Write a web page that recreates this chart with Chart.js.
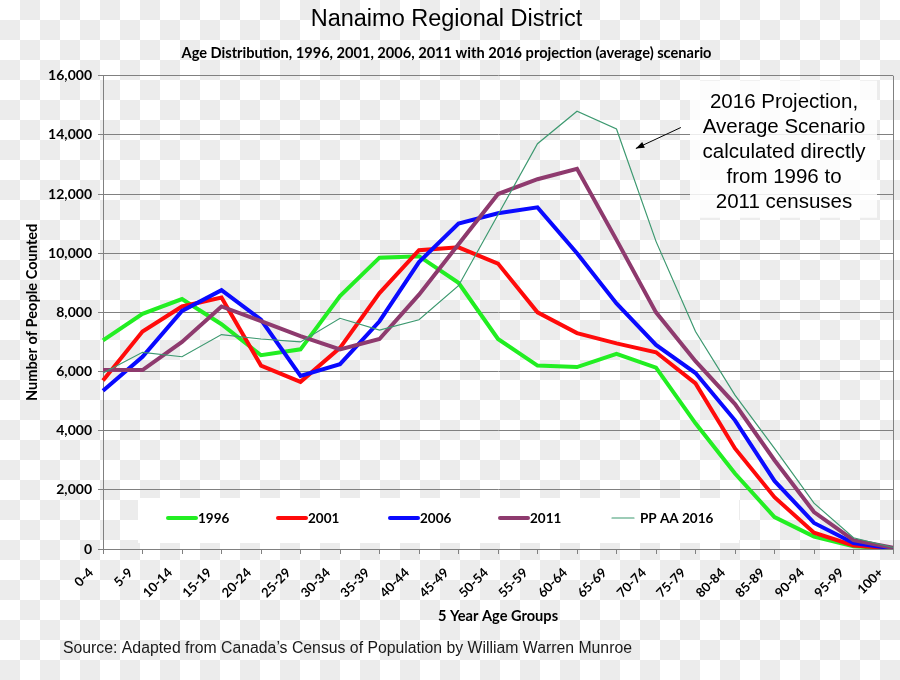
<!DOCTYPE html>
<html>
<head>
<meta charset="utf-8">
<title>Nanaimo Regional District</title>
<script src="https://cdn.jsdelivr.net/npm/chart.js@4"></script>
<style>
    body{
        margin:0;
        background-color:#ffffff;
        background-image:repeating-conic-gradient(#ececec 0 25%, #ffffff 0 50%);
        background-size:40px 40px;
    }
    canvas{
        display:block;
    }
</style>
</head>
<body>
<canvas id="ageChart" width="900" height="680"></canvas>
<script>

const ageGroups = ["0-4","5-9","10-14","15-19","20-24","25-29","30-34","35-39","40-44","45-49",
    "50-54","55-59","60-64","65-69","70-74","75-79","80-84","85-89","90-94","95-99","100+"];

const census1996 = [7050,7950,8450,7600,6550,6750,8550,9850,9900,9000,
    7100,6200,6150,6600,6130,4250,2550,1080,420,90,20];
const census2001 = [5700,7350,8200,8500,6200,5650,6800,8650,10100,10200,
    9650,8000,7300,6950,6650,5600,3400,1750,550,120,20];
const census2006 = [5350,6500,8050,8750,7750,5850,6250,7700,9700,11000,
    11350,11550,10000,8300,6900,5950,4350,2300,880,200,20];
const census2011 = [6050,6050,7000,8200,7700,7200,6750,7100,8600,10300,
    12000,12500,12850,10450,8000,6350,4900,3000,1250,300,40];
const projection2016 = [5950,6650,6500,7250,7100,7000,7800,7400,7750,8900,
    11300,13700,14800,14200,10400,7350,5200,3400,1550,380,50];

const seriesLabels = ["1996","2001","2006","2011","PP AA 2016"];
const noteLines = ["2016 Projection,","Average Scenario","calculated directly","from 1996 to","2011 censuses"];
const sourceText = "Source: Adapted from Canada\u2019s Census of Population by William Warren Munroe";

Chart.defaults.font.family = "Lato";
Chart.defaults.color = "#000000";

// legend sits inside the plot, just above the x axis
const insideLegend = {
    id:"insideLegend",
    afterDatasetsDraw(chart){
        const ctx = chart.ctx;
        const area = chart.chartArea;
        const starts = [168,278,390,500,612];
        const sampleLen = [28,28,28,28,22];
        const boxTop = area.bottom - 51;

        ctx.save();
        ctx.fillStyle = "#ffffff";
        ctx.fillRect(138, boxTop, 601, 45);

        ctx.font = "bold 13.5px Lato";
        ctx.textBaseline = "middle";
        const midY = boxTop + 20;

        chart.data.datasets.forEach((ds, i) => {
            ctx.strokeStyle = ds.borderColor;
            ctx.lineWidth = ds.borderWidth;
            ctx.lineCap = "round";
            ctx.beginPath();
            ctx.moveTo(starts[i], midY);
            ctx.lineTo(starts[i] + sampleLen[i], midY);
            ctx.stroke();
            ctx.fillStyle = "#000000";
            ctx.fillText(ds.label, starts[i] + sampleLen[i] + (i === 4 ? 6 : 2), midY + 1);
        });
        ctx.restore();
    }
};

// note box, arrow, right border and source line
const extras = {
    id:"extras",
    afterDraw(chart){
        const ctx = chart.ctx;
        const area = chart.chartArea;
        const x = chart.scales.x;
        const y = chart.scales.y;

        ctx.save();

        ctx.strokeStyle = "#808080";
        ctx.lineWidth = 1;
        ctx.beginPath();
        ctx.moveTo(area.right + 0.5, area.top);
        ctx.lineTo(area.right + 0.5, area.bottom);
        ctx.stroke();

        const boxRight = area.right - 16;
        const boxLeft = boxRight - 187;
        const boxTop = area.top + 5;
        ctx.fillStyle = "rgba(255,255,255,0.85)";
        ctx.fillRect(boxLeft, boxTop, 187, 137);

        ctx.fillStyle = "#000000";
        ctx.font = "20.5px 'Liberation Sans'";
        ctx.textAlign = "center";
        ctx.textBaseline = "middle";
        noteLines.forEach((line, i) => {
            ctx.fillText(line, boxLeft + 94, boxTop + 22 + i * 25);
        });

        // arrow pointing at the projection line
        const x1 = x.getPixelForValue(14.63), y1 = y.getPixelForValue(14250);
        const x2 = x.getPixelForValue(13.49), y2 = y.getPixelForValue(13540);
        const ang = Math.atan2(y2 - y1, x2 - x1);
        ctx.strokeStyle = "#000000";
        ctx.lineWidth = 1;
        ctx.beginPath();
        ctx.moveTo(x1, y1);
        ctx.lineTo(x2, y2);
        ctx.stroke();
        ctx.beginPath();
        ctx.moveTo(x2, y2);
        ctx.lineTo(x2 - 9 * Math.cos(ang - 0.35), y2 - 9 * Math.sin(ang - 0.35));
        ctx.lineTo(x2 - 9 * Math.cos(ang + 0.35), y2 - 9 * Math.sin(ang + 0.35));
        ctx.closePath();
        ctx.fillStyle = "#000000";
        ctx.fill();

        ctx.font = "15.8px 'Liberation Sans'";
        ctx.fillStyle = "#1a1a1a";
        ctx.textAlign = "left";
        ctx.fillText(sourceText, 63, 649);

        ctx.restore();
    }
};

function makeLine(label, data, color, width, order){
    return {
        label:label,
        data:data,
        borderColor:color,
        backgroundColor:color,
        borderWidth:width,
        pointRadius:0,
        tension:0,
        fill:false,
        order:order
    };
}

new Chart(document.getElementById("ageChart"), {
    type:"line",
    data:{
        labels:ageGroups,
        datasets:[
            makeLine(seriesLabels[0], census1996, "#22ee22", 4, 4),
            makeLine(seriesLabels[1], census2001, "#ff0a0a", 4, 3),
            makeLine(seriesLabels[2], census2006, "#0a0aff", 4, 2),
            makeLine(seriesLabels[3], census2011, "#8e3a6e", 4, 1),
            makeLine(seriesLabels[4], projection2016, "#3d9970", 1.2, 0)
        ]
    },
    options:{
        responsive:false,
        animation:false,
        layout:{
            padding:{left:0, right:7, top:0, bottom:51}
        },
        plugins:{
            legend:{display:false},
            tooltip:{enabled:false},
            title:{
                display:true,
                text:"Nanaimo Regional District",
                color:"#000000",
                font:{family:"'Liberation Sans'", size:23.5, weight:"normal"},
                padding:{top:5, bottom:0}
            },
            subtitle:{
                display:true,
                text:"Age Distribution, 1996, 2001, 2006, 2011 with 2016 projection (average) scenario",
                color:"#000000",
                font:{family:"Lato", size:14.6, weight:"bold"},
                padding:{top:11, bottom:14}
            }
        },
        scales:{
            x:{
                offset:false,
                grid:{
                    drawOnChartArea:false,
                    color:"#808080",
                    tickLength:5
                },
                border:{color:"#808080"},
                ticks:{
                    autoSkip:false,
                    maxRotation:45,
                    minRotation:45,
                    labelOffset:-12,
                    padding:11,
                    font:{size:13, weight:"bold"}
                },
                title:{
                    display:true,
                    text:"5 Year Age Groups",
                    font:{size:14.6, weight:"bold"},
                    padding:{top:0, bottom:4}
                },
                afterFit(scale){
                    scale.height = 80;
                    scale.paddingLeft = 0;
                    scale.paddingRight = 0;
                }
            },
            y:{
                min:0,
                max:16000,
                grid:{
                    color:"#808080",
                    tickLength:5
                },
                border:{color:"#808080"},
                ticks:{
                    stepSize:2000,
                    padding:6,
                    font:{size:14, weight:"bold"}
                },
                title:{
                    display:true,
                    text:"Number of People Counted",
                    font:{size:14.6, weight:"bold"},
                    padding:{top:24, bottom:0}
                },
                afterFit(scale){
                    scale.width = 103;
                }
            }
        }
    },
    plugins:[insideLegend, extras]
});

</script>
</body>
</html>
